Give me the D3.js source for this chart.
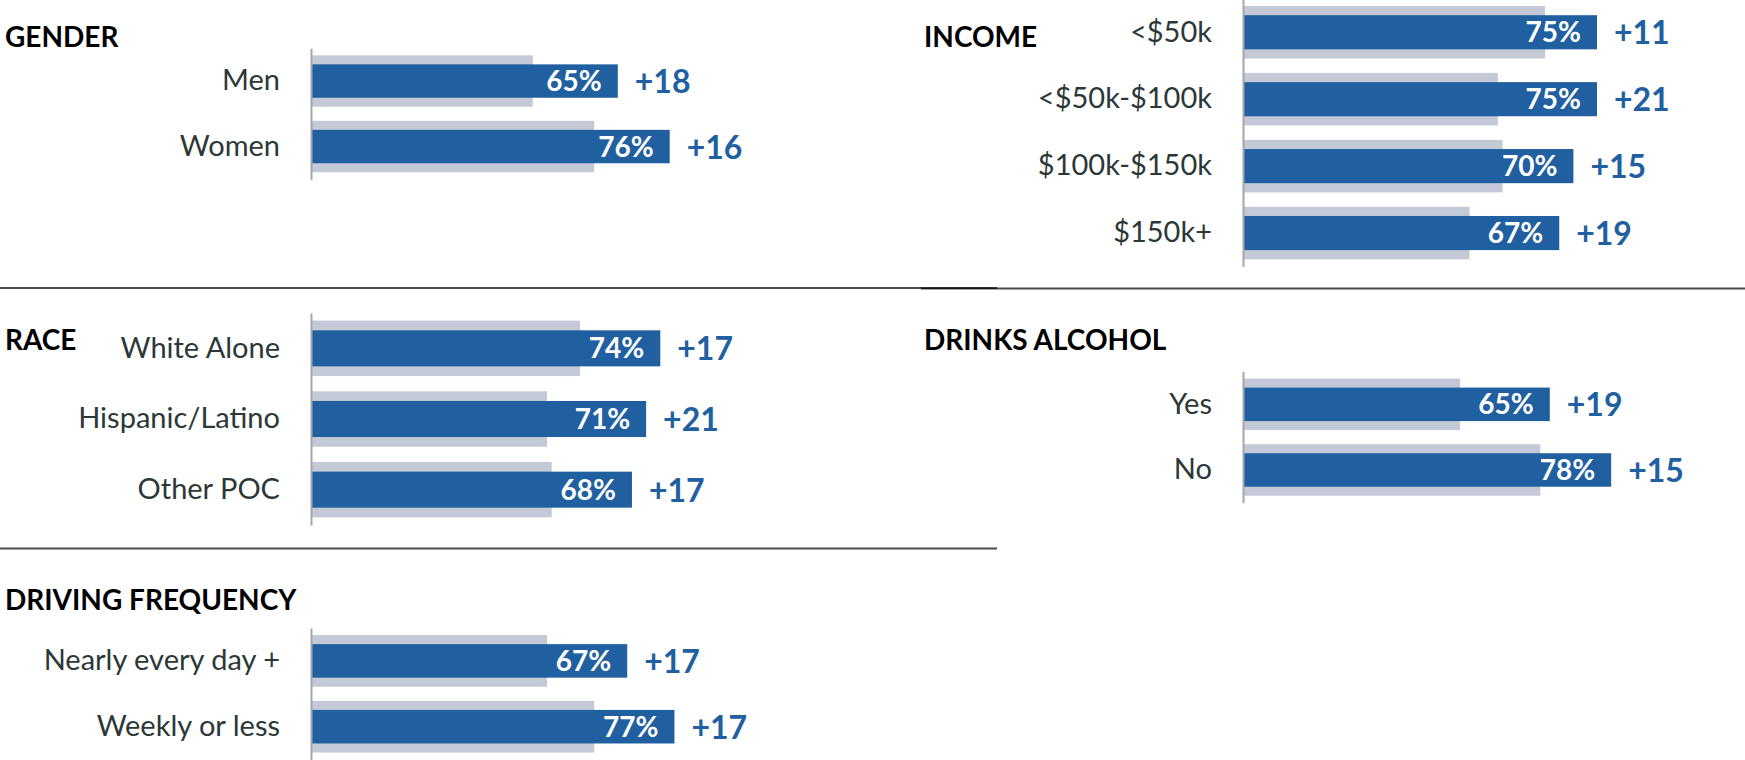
<!DOCTYPE html>
<html>
<head>
<meta charset="utf-8">
<script src="https://cdn.jsdelivr.net/npm/d3@7"></script>
<style>
    body { margin: 0; background: #fff; }
    text { font-family: Lato, "Open Sans", sans-serif; }
</style>
</head>
<body>
<svg id="chart" width="1745" height="760"></svg>
<script>
// data: current share (%) and change vs. previous wave (points)
const genderCats = ['Men', 'Women'];
const genderVals = [65, 76];
const genderChg = [18, 16];

const incomeCats = ['<$50k', '<$50k-$100k', '$100k-$150k', '$150k+'];
const incomeVals = [75, 75, 70, 67];
const incomeChg = [11, 21, 15, 19];

const raceCats = ['White Alone', 'Hispanic/Latino', 'Other POC'];
const raceVals = [74, 71, 68];
const raceChg = [17, 21, 17];

const drinkCats = ['Yes', 'No'];
const drinkVals = [65, 78];
const drinkChg = [19, 15];

const driveCats = ['Nearly every day +', 'Weekly or less'];
const driveVals = [67, 77];
const driveChg = [17, 17];

const BLUE = '#2160a0';
const GRAY = '#c3c9d6';
const LABEL = '#2c3838';

let svg = d3.select('#chart');

let x = d3.scaleLinear().domain([0, 100]).range([0, 472]);

function draw_panel(title, cats, vals, chg, opt) {
    let y = d3.scaleBand().domain(cats).range([opt.top, opt.bottom]);
    let bw = y.bandwidth();
    let rows = cats.map(function (c, i) {
        return {cat: c, val: vals[i], chg: chg[i]};
    });

    let g = svg.append('g')
        .attr('transform', 'translate(' + opt.axisX + ',0)');

    // previous wave (value minus change) in gray behind
    g.selectAll('.prev')
        .data(rows)
        .enter().append('rect')
        .attr('class', 'prev')
        .attr('x', 0)
        .attr('y', function (d) { return y(d.cat) + bw / 2 - bw * 0.785 / 2; })
        .attr('width', function (d) { return x(d.val - d.chg); })
        .attr('height', bw * 0.785)
        .attr('fill', GRAY);

    g.selectAll('.now')
        .data(rows)
        .enter().append('rect')
        .attr('class', 'now')
        .attr('x', 0)
        .attr('y', function (d) { return y(d.cat) + bw / 2 - bw * 0.51 / 2; })
        .attr('width', function (d) { return x(d.val); })
        .attr('height', bw * 0.51)
        .attr('fill', BLUE);

    g.selectAll('.val')
        .data(rows)
        .enter().append('text')
        .attr('class', 'val')
        .attr('x', function (d) { return x(d.val) - 16; })
        .attr('y', function (d) { return y(d.cat) + bw / 2; })
        .attr('dy', '0.36em')
        .attr('text-anchor', 'end')
        .attr('font-size', 28)
        .attr('font-weight', 'bold')
        .attr('fill', '#fff')
        .text(function (d) { return d.val + '%'; });

    g.selectAll('.chg')
        .data(rows)
        .enter().append('text')
        .attr('class', 'chg')
        .attr('x', function (d) { return x(d.val) + 17; })
        .attr('y', function (d) { return y(d.cat) + bw / 2; })
        .attr('dy', '0.38em')
        .attr('font-size', 32)
        .attr('font-weight', 'bold')
        .attr('fill', BLUE)
        .text(function (d) { return '+' + d.chg; });

    let axis = g.append('g')
        .call(d3.axisLeft(y).tickSize(0).tickSizeOuter(0).tickPadding(31));
    axis.attr('font-family', null).attr('font-size', null);
    axis.select('.domain')
        .attr('stroke', '#a6a6a6')
        .attr('stroke-width', 2);
    axis.selectAll('text')
        .attr('font-size', 29)
        .attr('fill', LABEL);

    svg.append('text')
        .attr('x', opt.titleX)
        .attr('y', opt.titleY)
        .attr('font-size', 28)
        .attr('font-weight', 'bold')
        .attr('fill', '#000')
        .text(title);
}

draw_panel('GENDER', genderCats, genderVals, genderChg,
    {axisX: 311, top: 48.3, bottom: 179.3, titleX: 5, titleY: 47});
draw_panel('INCOME', incomeCats, incomeVals, incomeChg,
    {axisX: 1243, top: -1.2, bottom: 266.5, titleX: 924, titleY: 47});
draw_panel('RACE', raceCats, raceVals, raceChg,
    {axisX: 311, top: 313, bottom: 525, titleX: 5, titleY: 350});
draw_panel('DRINKS ALCOHOL', drinkCats, drinkVals, drinkChg,
    {axisX: 1243, top: 371.5, bottom: 502.8, titleX: 924, titleY: 350});
draw_panel('DRIVING FREQUENCY', driveCats, driveVals, driveChg,
    {axisX: 311, top: 628, bottom: 759.6, titleX: 5, titleY: 610});

// separator rules between panels
let rules = [[0, 997, 288], [921, 1745, 288.5], [0, 997, 548.5]];
svg.selectAll('.rule')
    .data(rules)
    .enter().append('line')
    .attr('class', 'rule')
    .attr('x1', function (d) { return d[0]; })
    .attr('x2', function (d) { return d[1]; })
    .attr('y1', function (d) { return d[2]; })
    .attr('y2', function (d) { return d[2]; })
    .attr('stroke', '#000')
    .attr('stroke-opacity', 0.7)
    .attr('stroke-width', 2);
</script>
</body>
</html>
